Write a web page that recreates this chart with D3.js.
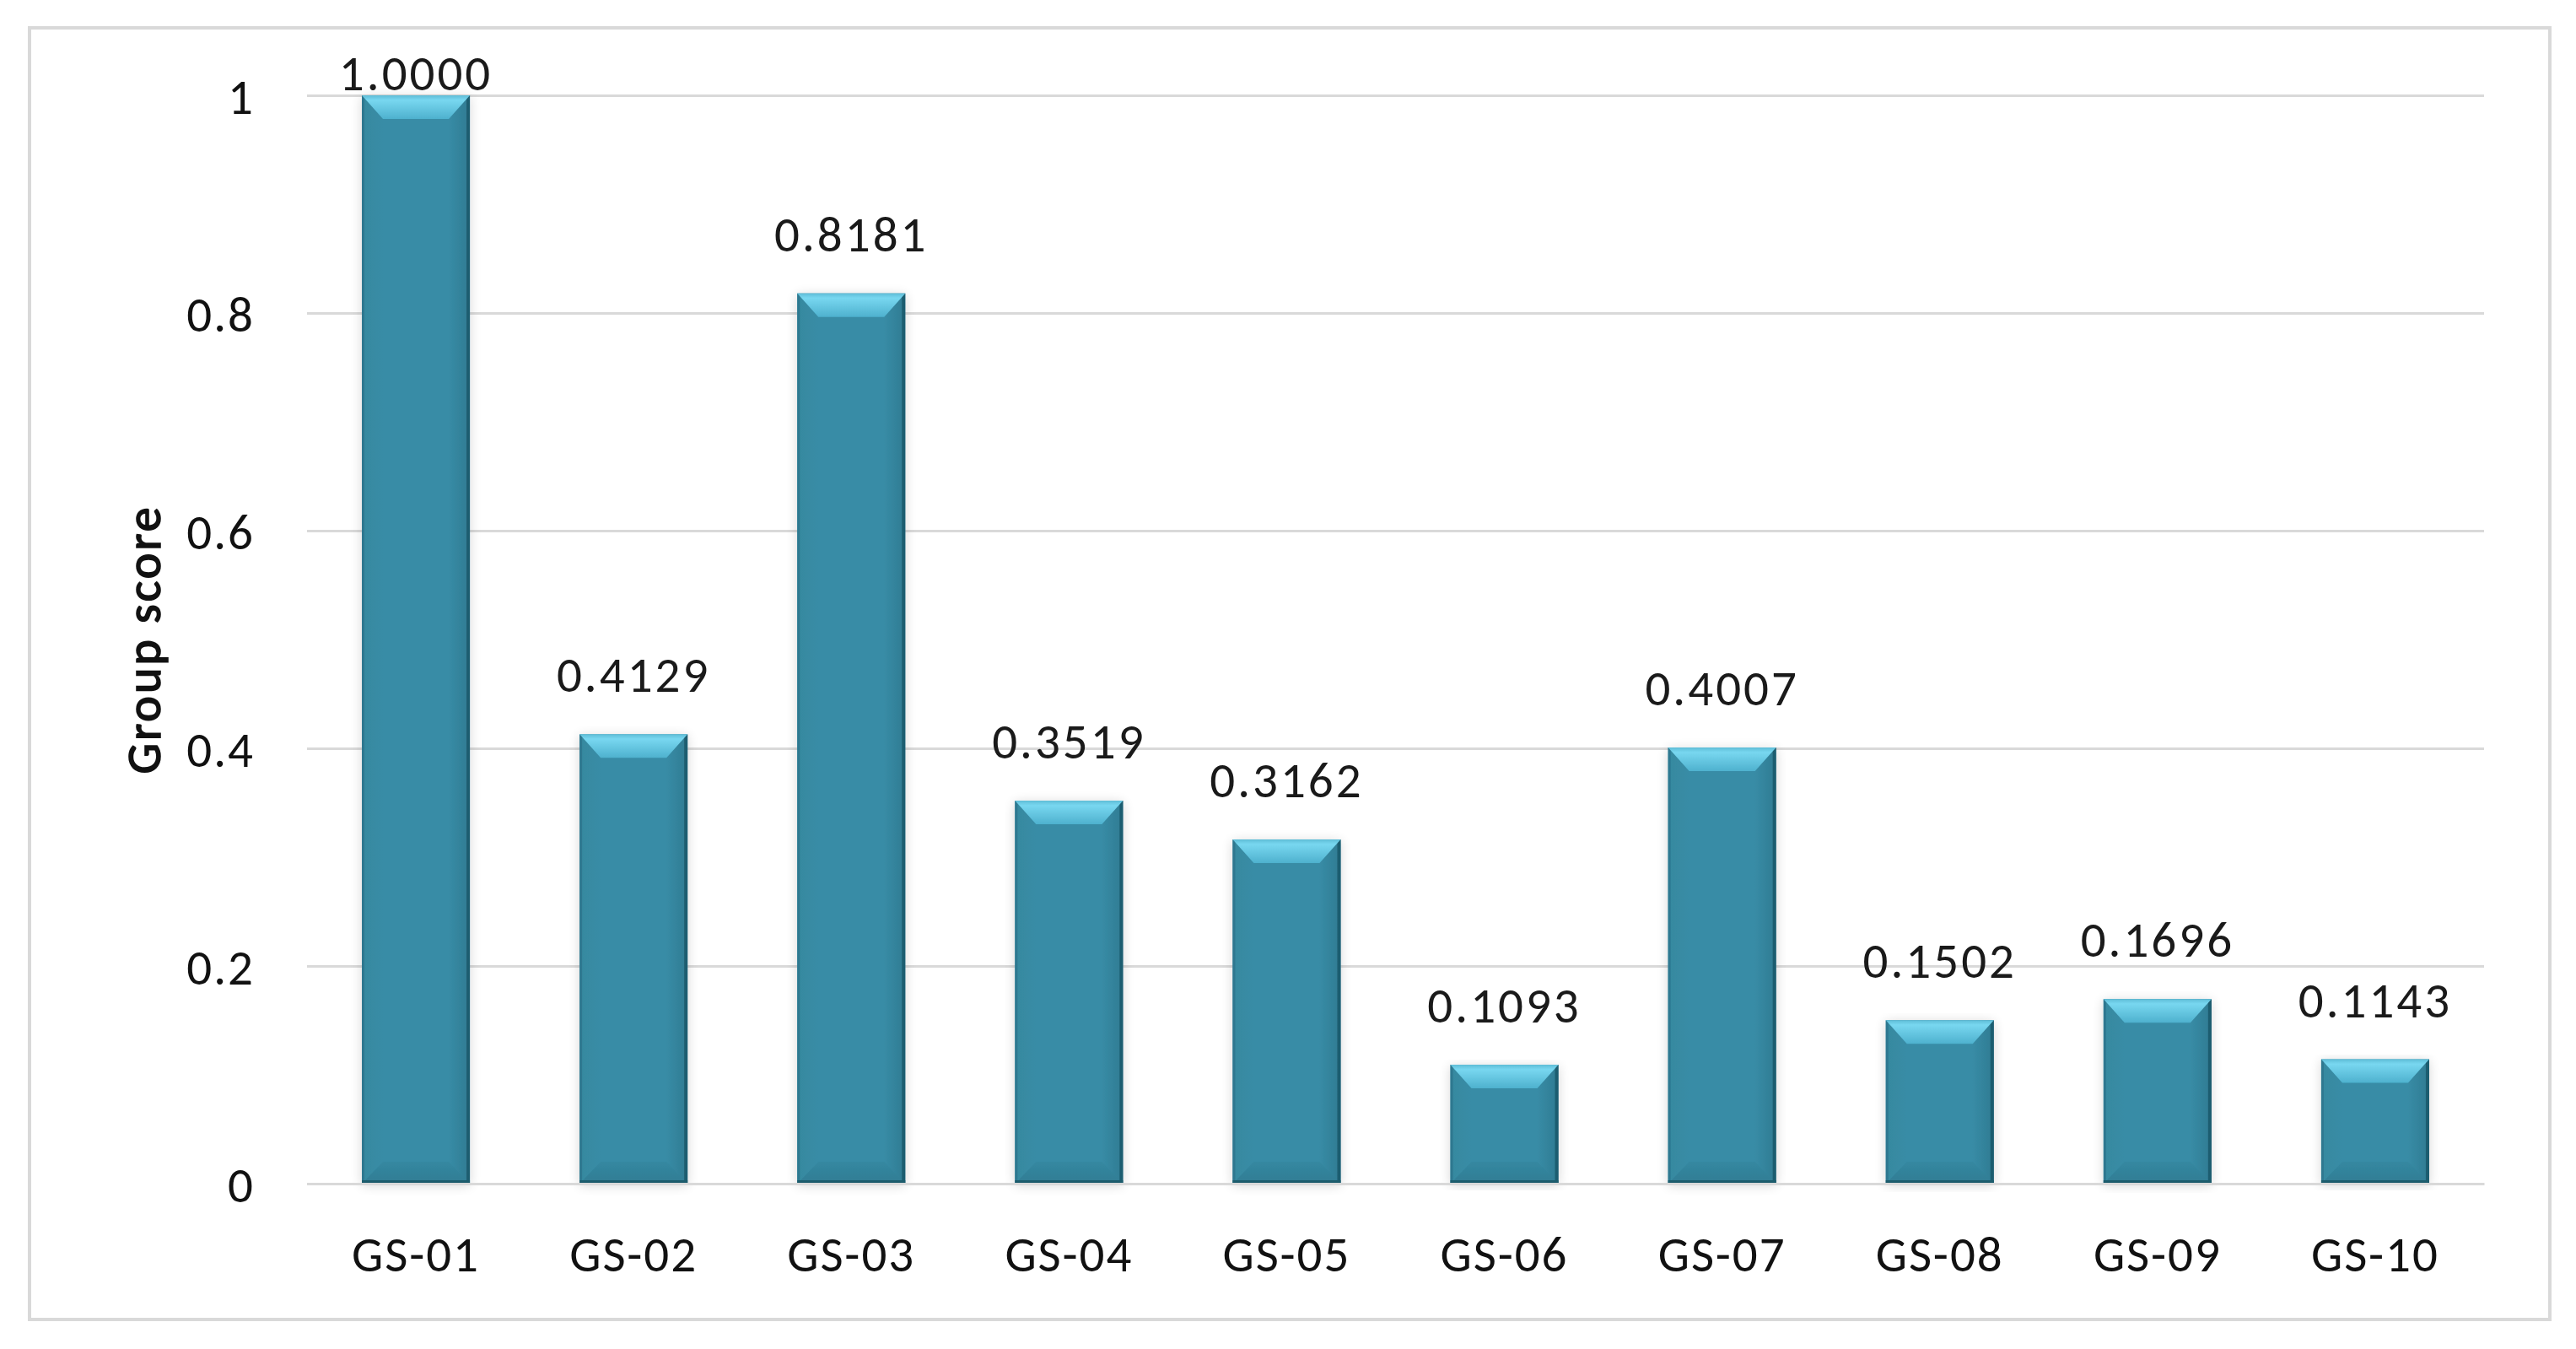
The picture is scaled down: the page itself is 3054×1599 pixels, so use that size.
<!DOCTYPE html>
<html><head><meta charset="utf-8">
<script src="https://cdn.jsdelivr.net/npm/d3@7"></script>
<style>body{margin:0;background:#fff}svg{display:block}</style>
</head><body>
<svg id="chart" width="3054" height="1599"></svg>
<script>
const categories = ["GS-01","GS-02","GS-03","GS-04","GS-05","GS-06","GS-07","GS-08","GS-09","GS-10"];
const values = [1.0000, 0.4129, 0.8181, 0.3519, 0.3162, 0.1093, 0.4007, 0.1502, 0.1696, 0.1143];
const valueLabels = ["1.0000","0.4129","0.8181","0.3519","0.3162","0.1093","0.4007","0.1502","0.1696","0.1143"];
const yTicks = [0, 0.2, 0.4, 0.6, 0.8, 1];
const yTickLabels = ["0","0.2","0.4","0.6","0.8","1"];
const yTitle = "Group score";

const FONT = "Carlito, Lato, 'Open Sans', sans-serif";
const svg = d3.select("#chart");
const plot = {left: 364, right: 2945, top: 113, bottom: 1403};

const x = d3.scaleBand().domain(categories).range([plot.left, plot.right]).paddingInner(0.504).paddingOuter(0.252);
const y = d3.scaleLinear().domain([0, 1]).range([plot.bottom, plot.top]);

// outer border
svg.append("rect").attr("x", 35).attr("y", 33).attr("width", 3023 - 35).attr("height", 1564 - 33)
  .attr("fill", "#fff").attr("stroke", "#d9d9d9").attr("stroke-width", 4);

const defs = svg.append("defs");
const sh = defs.append("filter").attr("id", "shadow").attr("x", "-20%").attr("y", "-5%").attr("width", "140%").attr("height", "110%");
sh.append("feGaussianBlur").attr("in", "SourceAlpha").attr("stdDeviation", 7).attr("result", "b");
sh.append("feOffset").attr("in", "b").attr("dx", 0).attr("dy", 2).attr("result", "o");
sh.append("feComponentTransfer").attr("in", "o").attr("result", "s").append("feFuncA").attr("type", "linear").attr("slope", 0.16);
const m = sh.append("feMerge"); m.append("feMergeNode").attr("in", "s"); m.append("feMergeNode").attr("in", "SourceGraphic");

const topGrad = defs.append("linearGradient").attr("id", "topg").attr("x1", 0).attr("y1", 0).attr("x2", 0).attr("y2", 1);
topGrad.append("stop").attr("offset", "0%").attr("stop-color", "#5fbdd7");
topGrad.append("stop").attr("offset", "20%").attr("stop-color", "#78d7f0");
topGrad.append("stop").attr("offset", "100%").attr("stop-color", "#4eb1ce");
const botGrad = defs.append("linearGradient").attr("id", "botg").attr("x1", 0).attr("y1", 0).attr("x2", 0).attr("y2", 1);
botGrad.append("stop").attr("offset", "0%").attr("stop-color", "#3588a1");
botGrad.append("stop").attr("offset", "100%").attr("stop-color", "#2f7c93");
const faceGrad = defs.append("linearGradient").attr("id", "faceg").attr("x1", 0).attr("y1", 0).attr("x2", 1).attr("y2", 0);
faceGrad.append("stop").attr("offset", "0%").attr("stop-color", "#36899f");
faceGrad.append("stop").attr("offset", "20%").attr("stop-color", "#388ca6");
faceGrad.append("stop").attr("offset", "80%").attr("stop-color", "#388ca6");
faceGrad.append("stop").attr("offset", "100%").attr("stop-color", "#2f7b92");

// y gridlines + tick labels
const yAxis = d3.axisLeft(y).tickValues(yTicks).tickFormat((d, i) => yTickLabels[i]).tickSize(-(plot.right - plot.left)).tickPadding(0);
const gy = svg.append("g").attr("transform", `translate(${plot.left},0)`).call(yAxis);
gy.select(".domain").remove();
gy.selectAll(".tick line").attr("stroke", "#d9d9d9").attr("stroke-width", 3);
gy.selectAll(".tick text").attr("x", -62).attr("dy", "0.36em").attr("font-family", FONT).attr("font-size", 59)
  .attr("letter-spacing", 2).attr("fill", "#111");

const pts = a => a.map(p => p.join(",")).join(" ");

// bars
const bars = svg.append("g").selectAll("g.bar").data(values).join("g").attr("class", "bar").attr("filter", "url(#shadow)");
bars.each(function(v, i) {
  const g = d3.select(this);
  const x0 = x(categories[i]), x1 = x0 + x.bandwidth();
  const yt = y(v), yb = y(0);
  const h = yb - yt;
  const dv = Math.min(28, h * 0.3), dh = 25, db = Math.min(26, h * 0.25), ds = 4;
  g.append("rect").attr("x", x0).attr("y", yt).attr("width", x1 - x0).attr("height", h).attr("fill", "url(#faceg)");
  g.append("polygon").attr("points", pts([[x0, yb], [x1, yb], [x1 - dh, yb - db], [x0 + dh, yb - db]])).attr("fill", "url(#botg)");
  g.append("polygon").attr("points", pts([[x1, yt], [x1, yb], [x1 - ds, yb - ds], [x1 - ds, yt + ds]])).attr("fill", "#1f5d70");
  g.append("polygon").attr("points", pts([[x0, yt], [x0, yb], [x0 + 3, yb - 3], [x0 + 3, yt + 3]])).attr("fill", "#2d7890");
  g.append("polygon").attr("points", pts([[x0, yt], [x1, yt], [x1 - dh, yt + dv], [x0 + dh, yt + dv]])).attr("fill", "url(#topg)");
  g.append("rect").attr("x", x0).attr("y", yb - 4).attr("width", x1 - x0).attr("height", 4).attr("fill", "#1f5b6c");
});

// value labels
svg.append("g").selectAll("text").data(values).join("text")
  .attr("x", (d, i) => x(categories[i]) + x.bandwidth() / 2)
  .attr("y", d => Math.max(y(d) - 50, 107))
  .attr("text-anchor", "middle").attr("font-family", FONT).attr("font-size", 59).attr("letter-spacing", 3)
  .attr("fill", "#1a1a1a")
  .text((d, i) => valueLabels[i]);

// x axis
const xAxis = d3.axisBottom(x).tickSize(0).tickPadding(0);
const gx = svg.append("g").attr("transform", `translate(0,${plot.bottom})`).call(xAxis);
gx.select(".domain").attr("stroke", "#d9d9d9").attr("stroke-width", 3);
gx.selectAll(".tick text").attr("y", 104).attr("dy", 0).attr("font-family", FONT).attr("font-size", 59)
  .attr("letter-spacing", 2).attr("fill", "#111");

// y title
svg.append("text").attr("transform", `translate(190,${(plot.top + plot.bottom) / 2}) rotate(-90)`)
  .attr("text-anchor", "middle").attr("font-family", FONT).attr("font-size", 58).attr("font-weight", 400)
  .attr("stroke", "#111").attr("stroke-width", 1.6).attr("letter-spacing", 3).attr("fill", "#111")
  .text(yTitle);
</script>
</body></html>
